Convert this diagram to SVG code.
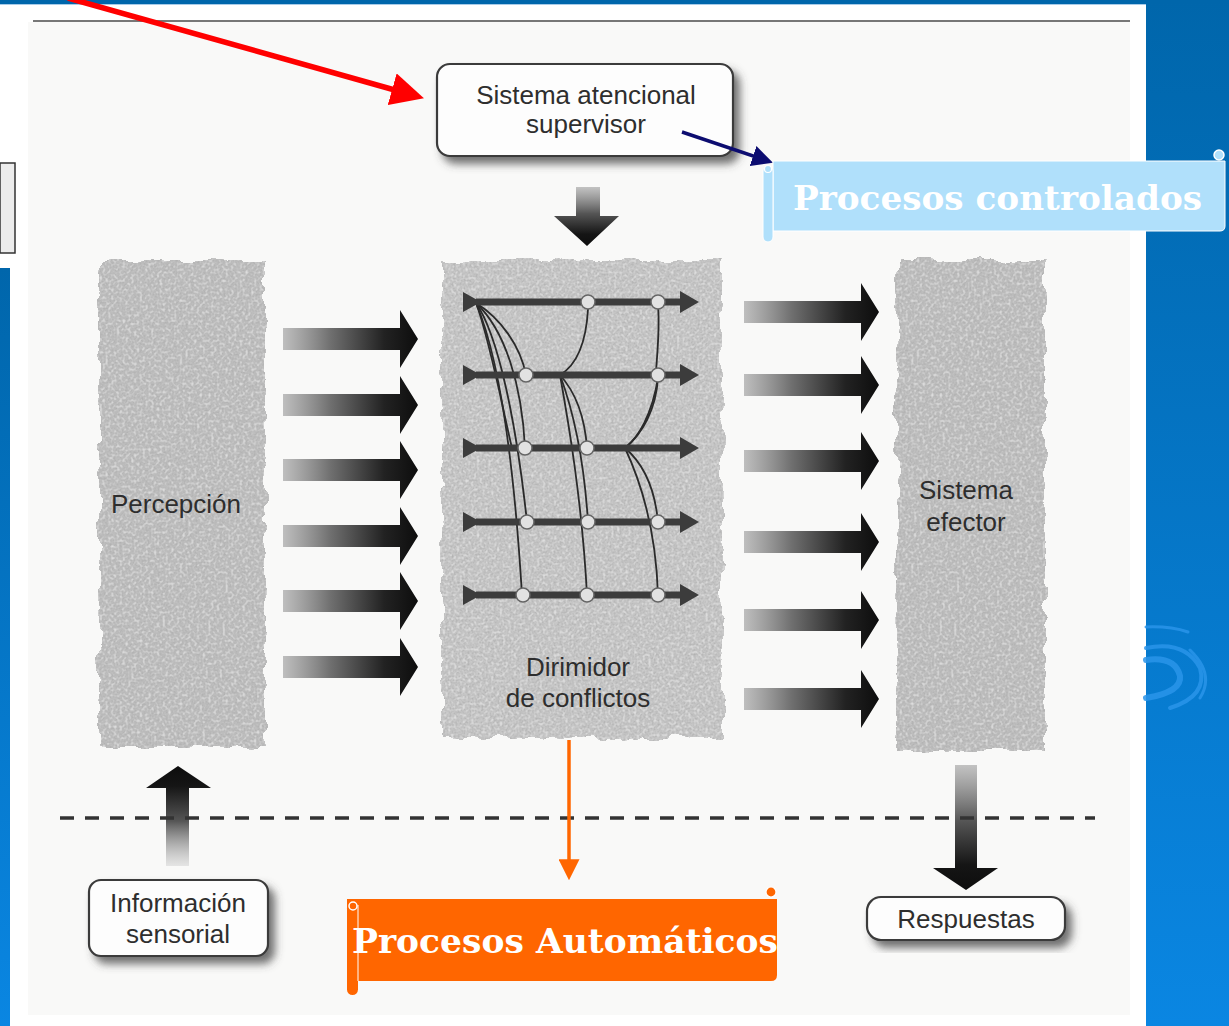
<svg xmlns="http://www.w3.org/2000/svg" width="1229" height="1026" viewBox="0 0 1229 1026">
<style>
.lbl{font-family:"Liberation Sans",Arial,sans-serif;font-size:26px;fill:#2e2e2e;text-anchor:middle}
.box{fill:#fdfdfd;stroke:#3a3a3a;stroke-width:2.2}
.ttl{font-family:"DejaVu Serif","Liberation Serif",serif;font-weight:bold;font-size:33px;fill:#ffffff}
.net{stroke:#3c3c3c;fill:none}
.wire{stroke:#2a2a2a;stroke-width:1.8;fill:none}
.node{fill:#e2e2e2;stroke:#666;stroke-width:1.5}
.paper{fill:#bdbdbd}
</style>
<defs>
  <linearGradient id="bluebg" x1="0" y1="0" x2="0" y2="1">
    <stop offset="0" stop-color="#0066ab"/>
    <stop offset="1" stop-color="#0a86e2"/>
  </linearGradient>
  <linearGradient id="hgrad" x1="0" y1="0" x2="1" y2="0">
    <stop offset="0" stop-color="#b4b4b4" stop-opacity="0.85"/>
    <stop offset="0.35" stop-color="#707070"/>
    <stop offset="0.75" stop-color="#222"/>
    <stop offset="1" stop-color="#0d0d0d"/>
  </linearGradient>
  <linearGradient id="vdown" x1="0" y1="0" x2="0" y2="1">
    <stop offset="0" stop-color="#b0b0b0" stop-opacity="0.75"/>
    <stop offset="0.45" stop-color="#555"/>
    <stop offset="0.8" stop-color="#151515"/>
    <stop offset="1" stop-color="#0d0d0d"/>
  </linearGradient>
  <linearGradient id="vup" x1="0" y1="1" x2="0" y2="0">
    <stop offset="0" stop-color="#d0d0d0" stop-opacity="0.5"/>
    <stop offset="0.45" stop-color="#555"/>
    <stop offset="0.8" stop-color="#151515"/>
    <stop offset="1" stop-color="#0d0d0d"/>
  </linearGradient>
  <filter id="torn" x="-6%" y="-4%" width="112%" height="108%">
    <feTurbulence type="fractalNoise" baseFrequency="0.045" numOctaves="3" seed="7" result="t"/>
    <feDisplacementMap in="SourceGraphic" in2="t" scale="14" xChannelSelector="R" yChannelSelector="G" result="d"/>
    <feTurbulence type="fractalNoise" baseFrequency="0.5" numOctaves="2" seed="2" result="n"/>
    <feColorMatrix in="n" type="matrix" values="0 0 0 0 0.42  0 0 0 0 0.42  0 0 0 0 0.42  1.8 0 0 0 -0.7" result="ng"/>
    <feComposite in="ng" in2="d" operator="in" result="nc"/>
    <feTurbulence type="fractalNoise" baseFrequency="0.35" numOctaves="1" seed="9" result="n2"/>
    <feColorMatrix in="n2" type="matrix" values="0 0 0 0 0.9  0 0 0 0 0.9  0 0 0 0 0.9  1.6 0 0 0 -0.75" result="ng2"/>
    <feComposite in="ng2" in2="d" operator="in" result="nc2"/>
    <feMerge><feMergeNode in="d"/><feMergeNode in="nc"/><feMergeNode in="nc2"/></feMerge>
  </filter>
  <filter id="shadow" x="-10%" y="-20%" width="125%" height="150%">
    <feGaussianBlur in="SourceAlpha" stdDeviation="4"/>
    <feOffset dx="6" dy="7" result="b"/>
    <feFlood flood-color="#444" flood-opacity="0.75"/>
    <feComposite in2="b" operator="in" result="s"/>
    <feMerge><feMergeNode in="s"/><feMergeNode in="SourceGraphic"/></feMerge>
  </filter>
  <path id="harrow" d="M0,-11 H117 V-29 L135,0 L117,29 V11 H0 Z"/>
  <marker id="redHead" markerWidth="6" markerHeight="6" refX="4.5" refY="3" orient="auto" markerUnits="strokeWidth">
    <path d="M0,0 L6,3 L0,6 Z" fill="#ff0000"/>
  </marker>
  <marker id="navyHead" markerWidth="6" markerHeight="6" refX="4.5" refY="3" orient="auto" markerUnits="strokeWidth">
    <path d="M0,0 L6,3 L0,6 Z" fill="#0c0c70"/>
  </marker>
  <marker id="orangeHead" markerWidth="6" markerHeight="6" refX="4.5" refY="3" orient="auto" markerUnits="strokeWidth">
    <path d="M0,0 L6,3 L0,6 Z" fill="#ff6600"/>
  </marker>
</defs>

<!-- background -->
<rect x="0" y="0" width="1229" height="1026" fill="#ffffff"/>
<rect x="1146" y="0" width="83" height="1026" fill="url(#bluebg)"/>
<rect x="0" y="268" width="10" height="758" fill="url(#bluebg)"/>
<rect x="0" y="0" width="1229" height="4" fill="#0066ab"/>
<rect x="0" y="4" width="1146" height="1" fill="#a8cbe8"/>
<g fill="none" stroke="#2a95ea" stroke-linecap="round" opacity="0.85">
  <path d="M1146,627 Q1170,626 1188,632" stroke-width="3"/>
  <path d="M1146,648 Q1185,640 1200,668 Q1208,696 1170,708" stroke-width="4"/>
  <path d="M1146,660 Q1175,656 1180,676 Q1182,692 1146,698" stroke-width="6"/>
  <path d="M1190,650 Q1215,674 1200,698" stroke-width="3"/>
</g>
<rect x="0" y="163" width="15" height="90" fill="#ececec" stroke="#333" stroke-width="1.5"/>

<!-- scanned image area -->
<rect x="28" y="22" width="1102" height="993" fill="#f9f9f8"/>
<line x1="33" y1="21" x2="1130" y2="21" stroke="#777" stroke-width="2"/>

<!-- torn paper columns -->
<g id="percepcion">
  <rect class="paper" x="99" y="260" width="166" height="486" filter="url(#torn)"/>
  <text class="lbl" x="176" y="513">Percepción</text>
</g>
<g id="dirimidor">
  <rect class="paper" x="442" y="260" width="280" height="478" filter="url(#torn)" style="fill:#c6c6c6"/>
  <text class="lbl" x="578" y="676">Dirimidor</text>
  <text class="lbl" x="578" y="707">de conflictos</text>
  <g id="network">
    <g class="wire">
      <path d="M476,303 C500,318 520,345 526,375"/>
      <path d="M476,303 C505,330 522,385 525,448"/>
      <path d="M476,303 C498,335 516,420 527,522"/>
      <path d="M476,303 C494,345 512,430 522,595"/>
      <path d="M476,303 C490,340 505,420 512,448"/>
      <path d="M588,309 C586,345 575,366 560,375"/>
      <path d="M560,375 C578,395 585,420 587,448"/>
      <path d="M560,375 C573,410 584,460 588,522"/>
      <path d="M560,375 C568,420 582,500 587,595"/>
      <path d="M658,305 C660,330 657,355 656,372"/>
      <path d="M658,378 C656,410 642,434 625,448"/>
      <path d="M658,378 C652,415 638,438 625,448"/>
      <path d="M625,448 C645,465 655,490 658,522"/>
      <path d="M625,448 C640,480 656,530 658,595"/>
    </g>
    <g class="net">
      <line x1="476" y1="302" x2="684" y2="302" stroke-width="7"/>
      <line x1="476" y1="375" x2="684" y2="375" stroke-width="7"/>
      <line x1="476" y1="448" x2="684" y2="448" stroke-width="7"/>
      <line x1="476" y1="522" x2="684" y2="522" stroke-width="7"/>
      <line x1="476" y1="595" x2="684" y2="595" stroke-width="7"/>
    </g>
    <g fill="#3c3c3c">
      <path d="M463,292 L481,302 L463,312 Z"/>
      <path d="M463,365 L481,375 L463,385 Z"/>
      <path d="M463,438 L481,448 L463,458 Z"/>
      <path d="M463,512 L481,522 L463,532 Z"/>
      <path d="M463,585 L481,595 L463,605 Z"/>
      <path d="M680,291 L699,302 L680,313 Z"/>
      <path d="M680,364 L699,375 L680,386 Z"/>
      <path d="M680,437 L699,448 L680,459 Z"/>
      <path d="M680,511 L699,522 L680,533 Z"/>
      <path d="M680,584 L699,595 L680,606 Z"/>
    </g>
    <g class="node">
      <circle cx="588" cy="302" r="7"/><circle cx="658" cy="302" r="7"/>
      <circle cx="526" cy="375" r="7"/><circle cx="658" cy="375" r="7"/>
      <circle cx="525" cy="448" r="7"/><circle cx="587" cy="448" r="7"/>
      <circle cx="527" cy="522" r="7"/><circle cx="588" cy="522" r="7"/><circle cx="658" cy="522" r="7"/>
      <circle cx="523" cy="595" r="7"/><circle cx="587" cy="595" r="7"/><circle cx="658" cy="595" r="7"/>
    </g>
  </g>
</g>
<g id="efector">
  <rect class="paper" x="897" y="260" width="148" height="490" filter="url(#torn)"/>
  <text class="lbl" x="966" y="499">Sistema</text>
  <text class="lbl" x="966" y="531">efector</text>
</g>

<!-- boxes -->
<g id="supervisor">
  <rect class="box" x="437" y="64" width="296" height="92" rx="13" filter="url(#shadow)"/>
  <text class="lbl" x="586" y="104">Sistema atencional</text>
  <text class="lbl" x="586" y="133">supervisor</text>
</g>
<g id="info">
  <rect class="box" x="89" y="880" width="179" height="76" rx="12" filter="url(#shadow)"/>
  <text class="lbl" x="178" y="912">Información</text>
  <text class="lbl" x="178" y="943">sensorial</text>
</g>
<g id="respuestas">
  <rect class="box" x="867" y="897" width="198" height="43" rx="14" filter="url(#shadow)"/>
  <text class="lbl" x="966" y="928">Respuestas</text>
</g>

<!-- connectors -->
<g id="connectors">
  <g fill="url(#hgrad)">
    <use href="#harrow" transform="translate(283,339)"/>
    <use href="#harrow" transform="translate(283,405)"/>
    <use href="#harrow" transform="translate(283,470)"/>
    <use href="#harrow" transform="translate(283,536)"/>
    <use href="#harrow" transform="translate(283,601)"/>
    <use href="#harrow" transform="translate(283,667)"/>
    <use href="#harrow" transform="translate(744,312)"/>
    <use href="#harrow" transform="translate(744,385)"/>
    <use href="#harrow" transform="translate(744,461)"/>
    <use href="#harrow" transform="translate(744,542)"/>
    <use href="#harrow" transform="translate(744,620)"/>
    <use href="#harrow" transform="translate(744,699)"/>
  </g>
  <path d="M576,187 H600 V216 H619 L587,246 L554,216 H576 Z" fill="url(#vdown)"/>
  <path d="M166,866 V788 H146 L178,766 L211,788 H189 V866 Z" fill="url(#vup)"/>
  <path d="M955,765 H977 V868 H998 L966,890 L933,868 H955 Z" fill="url(#vdown)"/>
  <line x1="60" y1="818" x2="1095" y2="818" stroke="#333" stroke-width="3.5" stroke-dasharray="14 11"/>
  <line x1="68" y1="-2" x2="416" y2="96" stroke="#ff0000" stroke-width="5.5" marker-end="url(#redHead)"/>
  <line x1="682" y1="132" x2="768" y2="161" stroke="#0c0c70" stroke-width="3.5" marker-end="url(#navyHead)"/>
  <line x1="569" y1="740" x2="569" y2="875" stroke="#ff6600" stroke-width="3.5" marker-end="url(#orangeHead)"/>
</g>

<!-- scroll banners -->
<g id="controlados">
  <path d="M773,161 H1225 V226 Q1225,231 1220,231 H773 Z" fill="#b0e0fb" stroke="#ffffff" stroke-width="1"/>
  <rect x="763" y="166" width="10" height="76" rx="5" fill="#b0e0fb" stroke="#ffffff" stroke-width="1"/>
  <circle cx="768" cy="169" r="3.5" fill="#b0e0fb" stroke="#ffffff" stroke-width="1.2"/>
  <circle cx="1219" cy="155" r="5" fill="#b0e0fb" stroke="#ffffff" stroke-width="1.5"/>
  <text class="ttl" x="793" y="210" textLength="409" lengthAdjust="spacingAndGlyphs">Procesos controlados</text>
</g>
<g id="automaticos">
  <path d="M347,899 H777 V975 Q777,981 771,981 H347 Z" fill="#ff6600"/>
  <rect x="347" y="903" width="11" height="92" rx="5.5" fill="#ff6600"/>
  <line x1="358" y1="905" x2="358" y2="981" stroke="#ffffff" stroke-width="1"/>
  <circle cx="353" cy="906" r="4" fill="#ff6600" stroke="#ffffff" stroke-width="1.5"/>
  <circle cx="771" cy="892" r="5" fill="#ff6600" stroke="#ffffff" stroke-width="1.2"/>
  <text class="ttl" x="352" y="953" textLength="426" lengthAdjust="spacingAndGlyphs">Procesos Automáticos</text>
</g>
</svg>
